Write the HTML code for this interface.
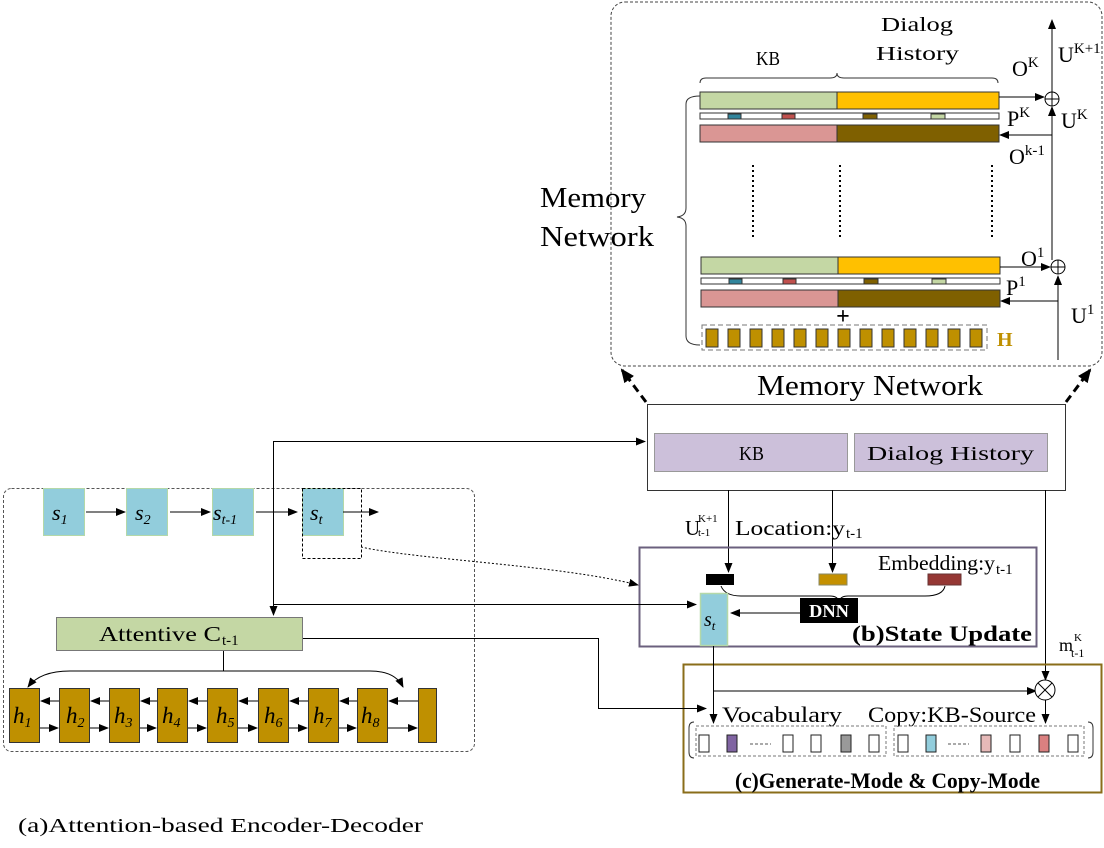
<!DOCTYPE html>
<html><head><meta charset="utf-8"><style>
html,body{margin:0;padding:0;background:#fff;width:1104px;height:848px;overflow:hidden}
svg{display:block}
text{font-family:"Liberation Serif",serif;fill:#000}
.s{font-family:"Liberation Serif",serif;font-style:italic}
</style></head><body>
<svg width="1104" height="848" viewBox="0 0 1104 848" xmlns="http://www.w3.org/2000/svg">
<defs>
<marker id="a" markerWidth="10" markerHeight="8" refX="9" refY="4" orient="auto" markerUnits="userSpaceOnUse"><path d="M0,0 L10,4 L0,8 z" fill="#000"/></marker>
<marker id="b" markerWidth="14" markerHeight="12" refX="12" refY="6" orient="auto" markerUnits="userSpaceOnUse"><path d="M0,0 L14,6 L0,12 z" fill="#000"/></marker>
</defs>

<rect x="611" y="2" width="491" height="364" rx="14" fill="none" stroke="#444" stroke-dasharray="3,2"/>
<text x="756" y="65" font-size="20" textLength="24" lengthAdjust="spacingAndGlyphs">KB</text>
<text x="881" y="31" font-size="20" textLength="72" lengthAdjust="spacingAndGlyphs">Dialog</text>
<text x="876" y="60" font-size="20" textLength="83" lengthAdjust="spacingAndGlyphs">History</text>
<path d="M700,83 q0,-5 6,-5 L830,78 q7,0 7,-5 q0,5 7,5 L992,78 q6,0 6,5" fill="none" stroke="#333"/>

<g stroke="#333" stroke-width="1">
<rect x="700" y="92" width="137" height="17" fill="#c4d7a4"/>
<rect x="837" y="92" width="162" height="17" fill="#ffc000"/>
<rect x="700" y="113" width="299" height="6" fill="#fff"/>
<rect x="728" y="114" width="13" height="5" fill="#31859c"/>
<rect x="782" y="114" width="13" height="5" fill="#c0504d"/>
<rect x="863" y="114" width="14" height="5" fill="#7f6000"/>
<rect x="931" y="114" width="14" height="5" fill="#c4d7a4"/>
<rect x="700" y="125" width="137" height="17" fill="#da9694"/>
<rect x="837" y="125" width="162" height="17" fill="#7f6000"/>
<rect x="701" y="257" width="137" height="17" fill="#c4d7a4"/>
<rect x="838" y="257" width="162" height="17" fill="#ffc000"/>
<rect x="701" y="278" width="299" height="6" fill="#fff"/>
<rect x="729" y="279" width="13" height="5" fill="#31859c"/>
<rect x="783" y="279" width="13" height="5" fill="#c0504d"/>
<rect x="864" y="279" width="14" height="5" fill="#7f6000"/>
<rect x="932" y="279" width="14" height="5" fill="#c4d7a4"/>
<rect x="701" y="290" width="137" height="17" fill="#da9694"/>
<rect x="838" y="290" width="162" height="17" fill="#7f6000"/>
</g>
<g stroke="#000" stroke-width="2" stroke-dasharray="2,3">
<line x1="753" y1="165" x2="753" y2="240"/>
<line x1="840" y1="165" x2="840" y2="240"/>
<line x1="992" y1="165" x2="992" y2="240"/>
</g>
<text x="843" y="324" font-size="24" font-weight="bold" text-anchor="middle">+</text>
<rect x="702" y="325" width="285" height="25" fill="none" stroke="#777" stroke-dasharray="5,3"/>
<g fill="#bf9000" stroke="#333">
<rect x="706" y="329" width="12" height="18"/><rect x="728" y="329" width="12" height="18"/><rect x="750" y="329" width="12" height="18"/><rect x="772" y="329" width="12" height="18"/><rect x="794" y="329" width="12" height="18"/><rect x="816" y="329" width="12" height="18"/><rect x="838" y="329" width="12" height="18"/><rect x="860" y="329" width="12" height="18"/><rect x="882" y="329" width="12" height="18"/><rect x="904" y="329" width="12" height="18"/><rect x="926" y="329" width="12" height="18"/><rect x="948" y="329" width="12" height="18"/><rect x="970" y="329" width="12" height="18"/>
</g>
<text x="997" y="346" font-size="20" font-weight="bold" style="fill:#bf9000">H</text>
<path d="M700,96 q-14,0 -14,8 L686,208 q0,8 -9,9 q9,1 9,9 L686,336 q0,9 14,9" fill="none" stroke="#333"/>
<text x="540" y="207" font-size="28" textLength="106" lengthAdjust="spacingAndGlyphs">Memory</text>
<text x="540" y="246" font-size="28" textLength="114" lengthAdjust="spacingAndGlyphs">Network</text>

<g stroke="#000" fill="none">
<circle cx="1052" cy="99" r="7" fill="#fff"/>
<line x1="1045" y1="99" x2="1059" y2="99"/><line x1="1052" y1="92" x2="1052" y2="106"/>
<circle cx="1058" cy="267" r="7" fill="#fff"/>
<line x1="1051" y1="267" x2="1065" y2="267"/><line x1="1058" y1="260" x2="1058" y2="274"/>
<line x1="1052" y1="92" x2="1052" y2="20" marker-end="url(#a)"/>
<line x1="1052" y1="260" x2="1052" y2="107" marker-end="url(#a)"/>
<line x1="999" y1="97" x2="1044" y2="97" marker-end="url(#a)"/>
<line x1="1052" y1="135" x2="1000" y2="135" marker-end="url(#a)"/>
<line x1="1000" y1="267" x2="1050" y2="267" marker-end="url(#a)"/>
<line x1="1058" y1="360" x2="1058" y2="276" marker-end="url(#a)"/>
<line x1="1058" y1="301" x2="1001" y2="301" marker-end="url(#a)"/>
</g>
<g font-size="22">
<text x="1012" y="76">O<tspan font-size="15" dy="-9">K</tspan></text>
<text x="1058" y="62">U<tspan font-size="15" dy="-9">K+1</tspan></text>
<text x="1007" y="126">P<tspan font-size="15" dy="-9">K</tspan></text>
<text x="1061" y="128">U<tspan font-size="15" dy="-9">K</tspan></text>
<text x="1009" y="164">O<tspan font-size="15" dy="-9">k-1</tspan></text>
<text x="1021" y="266">O<tspan font-size="15" dy="-9">1</tspan></text>
<text x="1006" y="295">P<tspan font-size="15" dy="-9">1</tspan></text>
<text x="1071" y="323">U<tspan font-size="15" dy="-9">1</tspan></text>
</g>

<text x="757" y="395" font-size="28" textLength="226" lengthAdjust="spacingAndGlyphs">Memory Network</text>
<line x1="646" y1="402" x2="622" y2="370" stroke="#000" stroke-width="3" stroke-dasharray="8,5" marker-end="url(#b)"/>
<line x1="1066" y1="402" x2="1090" y2="370" stroke="#000" stroke-width="3" stroke-dasharray="8,5" marker-end="url(#b)"/>
<rect x="647.5" y="404.5" width="418" height="86" fill="#fff" stroke="#333"/>
<rect x="654.5" y="433.5" width="193" height="38" fill="#ccc0da" stroke="#999"/>
<rect x="854.5" y="433.5" width="193" height="38" fill="#ccc0da" stroke="#999"/>
<text x="739" y="460" font-size="20" textLength="25" lengthAdjust="spacingAndGlyphs">KB</text>
<text x="867" y="460" font-size="20" textLength="167" lengthAdjust="spacingAndGlyphs">Dialog History</text>

<g stroke="#000" fill="none">
<line x1="728.5" y1="490" x2="728.5" y2="572" marker-end="url(#a)"/>
<line x1="832.5" y1="490" x2="832.5" y2="572" marker-end="url(#a)"/>
<line x1="1045.5" y1="490" x2="1045.5" y2="680" marker-end="url(#a)"/>
</g>
<text x="685" y="535" font-size="21">U</text>
<text x="698" y="522" font-size="11">K+1</text>
<text x="698" y="536" font-size="11">t-1</text>
<text x="735" y="535" font-size="21" textLength="110" lengthAdjust="spacingAndGlyphs">Location:y</text><text x="846" y="538" font-size="15">t-1</text>

<rect x="639.5" y="547.5" width="397" height="99" fill="none" stroke="#6b607e" stroke-width="2"/>
<text x="878" y="570" font-size="21" textLength="117" lengthAdjust="spacingAndGlyphs">Embedding:y</text><text x="996" y="574" font-size="15">t-1</text>
<rect x="706" y="574" width="28" height="11" fill="#000"/>
<rect x="819" y="574" width="28" height="11" fill="#c49000" stroke="#886"/>
<rect x="928" y="574" width="33" height="11" fill="#953734" stroke="#633"/>
<path d="M721,586 q4,10 20,10 L830,596 q8,0 9,6 q1,-6 9,-6 L925,596 q18,0 20,-10" fill="none" stroke="#000"/>
<rect x="800" y="598" width="58" height="25" fill="#000"/>
<text x="829" y="617" font-size="18" font-weight="bold" text-anchor="middle" style="fill:#fff" textLength="40" lengthAdjust="spacingAndGlyphs">DNN</text>
<rect x="700.5" y="593.5" width="27" height="52" fill="#92cddc" stroke="#b4d8a8" stroke-width="1.5"/>
<text x="704" y="626" font-size="20" class="s">s<tspan font-size="13" dy="4">t</tspan></text>
<line x1="800" y1="613" x2="731" y2="613" stroke="#000" marker-end="url(#a)"/>
<text x="852" y="641" font-size="22" font-weight="bold" textLength="180" lengthAdjust="spacingAndGlyphs">(b)State Update</text>
<text x="1059" y="651" font-size="18">m</text>
<text x="1074" y="641" font-size="11">K</text>
<text x="1071" y="657" font-size="12">t-1</text>

<rect x="683.5" y="664.5" width="418" height="128" fill="none" stroke="#8a6d1a" stroke-width="2"/>
<g stroke="#000" fill="none">
<line x1="713.5" y1="646" x2="713.5" y2="723" marker-end="url(#a)"/>
<line x1="713" y1="691" x2="1036" y2="691" marker-end="url(#a)"/>
<circle cx="1045" cy="690" r="10" fill="#fff"/>
<line x1="1038" y1="683" x2="1052" y2="697"/><line x1="1052" y1="683" x2="1038" y2="697"/>
<line x1="1045.5" y1="700" x2="1045.5" y2="723" marker-end="url(#a)"/>
</g>
<text x="722" y="722" font-size="22" textLength="120" lengthAdjust="spacingAndGlyphs">Vocabulary</text>
<text x="868" y="722" font-size="22" textLength="168" lengthAdjust="spacingAndGlyphs">Copy:KB-Source</text>
<path d="M694,722 q-5,0 -5,6 L689,752 q0,6 5,6 M1088,722 q5,0 5,6 L1093,752 q0,6 -5,6" fill="none" stroke="#333"/>
<rect x="696" y="726" width="190" height="30" fill="none" stroke="#777" stroke-dasharray="3,2"/>
<rect x="894" y="726" width="190" height="30" fill="none" stroke="#777" stroke-dasharray="3,2"/>
<g stroke="#222">
<rect x="699" y="735" width="10" height="17" fill="#fff"/>
<rect x="727" y="735" width="10" height="17" fill="#8064a2"/>
<rect x="783" y="735" width="10" height="17" fill="#fff"/>
<rect x="811" y="735" width="10" height="17" fill="#fff"/>
<rect x="841" y="735" width="10" height="17" fill="#999"/>
<rect x="869" y="735" width="10" height="17" fill="#fff"/>
<rect x="898" y="735" width="10" height="17" fill="#fff"/>
<rect x="926" y="735" width="10" height="17" fill="#92cddc"/>
<rect x="981" y="735" width="10" height="17" fill="#e6b9b8"/>
<rect x="1010" y="735" width="10" height="17" fill="#fff"/>
<rect x="1039" y="735" width="10" height="17" fill="#da8080"/>
<rect x="1068" y="735" width="10" height="17" fill="#fff"/>
</g>
<line x1="750" y1="744" x2="771" y2="744" stroke="#555" stroke-dasharray="3,2"/>
<line x1="948" y1="744" x2="969" y2="744" stroke="#555" stroke-dasharray="3,2"/>
<text x="735" y="788" font-size="22" font-weight="bold" textLength="305" lengthAdjust="spacingAndGlyphs">(c)Generate-Mode &amp; Copy-Mode</text>

<rect x="3.5" y="488.5" width="471" height="263" rx="8" fill="none" stroke="#555" stroke-dasharray="3,2"/>
<g fill="#92cddc" stroke="#b4d8a8">
<rect x="43.5" y="488.5" width="41" height="47"/>
<rect x="126.5" y="488.5" width="41" height="47"/>
<rect x="212.5" y="488.5" width="41" height="47"/>
<rect x="302.5" y="488.5" width="41" height="47"/>
</g>
<text x="52" y="520" font-size="22" class="s">s<tspan font-size="14" dy="4">1</tspan></text>
<text x="135" y="520" font-size="22" class="s">s<tspan font-size="14" dy="4">2</tspan></text>
<text x="213" y="520" font-size="22" class="s">s<tspan font-size="14" dy="4">t-1</tspan></text>
<text x="310" y="520" font-size="22" class="s">s<tspan font-size="14" dy="4">t</tspan></text>
<rect x="302.5" y="488.5" width="59" height="70" fill="none" stroke="#000" stroke-dasharray="3,2"/>
<g stroke="#000" fill="none">
<line x1="86" y1="512" x2="125" y2="512" marker-end="url(#a)"/>
<line x1="170" y1="512" x2="210" y2="512" marker-end="url(#a)"/>
<line x1="256" y1="512" x2="297" y2="512" marker-end="url(#a)"/>
<line x1="343" y1="512" x2="378" y2="512" marker-end="url(#a)"/>
<line x1="273.5" y1="441" x2="273.5" y2="615" marker-end="url(#a)"/>
<line x1="273" y1="441.5" x2="645" y2="441.5" marker-end="url(#a)"/>
<line x1="273" y1="604.5" x2="696" y2="604.5" marker-end="url(#a)"/>
<path d="M361,547 C420,560 560,565 638,585" stroke-dasharray="2,2" marker-end="url(#a)"/>
<polyline points="302,638.5 598.5,638.5 598.5,708.5 706,708.5" marker-end="url(#a)"/>
<line x1="223.5" y1="650" x2="223.5" y2="671"/>
<path d="M70,671 L370,671 Q395,671 403,687" marker-end="url(#a)"/>
<path d="M70,671 Q40,671 28,687" marker-end="url(#a)"/>
</g>
<rect x="56.5" y="617.5" width="246" height="33" fill="#c4d7a4" stroke="#777"/>
<text x="99" y="641" font-size="21" textLength="122" lengthAdjust="spacingAndGlyphs">Attentive C</text><text x="222" y="645" font-size="15">t-1</text>

<g fill="#bf9000" stroke="#333">
<rect x="9.5" y="688.5" width="30" height="54"/>
<rect x="59.5" y="688.5" width="30" height="54"/>
<rect x="109.5" y="688.5" width="30" height="54"/>
<rect x="157.5" y="688.5" width="30" height="54"/>
<rect x="207.5" y="688.5" width="30" height="54"/>
<rect x="258.5" y="688.5" width="30" height="54"/>
<rect x="308.5" y="688.5" width="30" height="54"/>
<rect x="357.5" y="688.5" width="30" height="54"/>
<rect x="418.5" y="688.5" width="18" height="54"/>
</g>
<g font-size="23">
<text x="13" y="723" class="s">h<tspan font-size="14" dy="4">1</tspan></text>
<text x="66" y="723" class="s">h<tspan font-size="14" dy="4">2</tspan></text>
<text x="114" y="723" class="s">h<tspan font-size="14" dy="4">3</tspan></text>
<text x="162" y="723" class="s">h<tspan font-size="14" dy="4">4</tspan></text>
<text x="216" y="723" class="s">h<tspan font-size="14" dy="4">5</tspan></text>
<text x="264" y="723" class="s">h<tspan font-size="14" dy="4">6</tspan></text>
<text x="313" y="723" class="s">h<tspan font-size="14" dy="4">7</tspan></text>
<text x="361" y="723" class="s">h<tspan font-size="14" dy="4">8</tspan></text>
</g>
<g stroke="#000" fill="none">
<line x1="59" y1="701" x2="41" y2="701" marker-end="url(#a)"/>
<line x1="109" y1="701" x2="91" y2="701" marker-end="url(#a)"/>
<line x1="157" y1="701" x2="141" y2="701" marker-end="url(#a)"/>
<line x1="207" y1="701" x2="189" y2="701" marker-end="url(#a)"/>
<line x1="258" y1="701" x2="239" y2="701" marker-end="url(#a)"/>
<line x1="308" y1="701" x2="290" y2="701" marker-end="url(#a)"/>
<line x1="357" y1="701" x2="340" y2="701" marker-end="url(#a)"/>
<line x1="418" y1="701" x2="389" y2="701" marker-end="url(#a)"/>
<line x1="40" y1="728" x2="58" y2="728" marker-end="url(#a)"/>
<line x1="90" y1="728" x2="108" y2="728" marker-end="url(#a)"/>
<line x1="140" y1="728" x2="156" y2="728" marker-end="url(#a)"/>
<line x1="188" y1="728" x2="206" y2="728" marker-end="url(#a)"/>
<line x1="238" y1="728" x2="257" y2="728" marker-end="url(#a)"/>
<line x1="289" y1="728" x2="307" y2="728" marker-end="url(#a)"/>
<line x1="339" y1="728" x2="356" y2="728" marker-end="url(#a)"/>
<line x1="388" y1="728" x2="417" y2="728" marker-end="url(#a)"/>
</g>
<text x="18" y="832" font-size="20" textLength="405" lengthAdjust="spacingAndGlyphs">(a)Attention-based Encoder-Decoder</text>
</svg>
</body></html>
